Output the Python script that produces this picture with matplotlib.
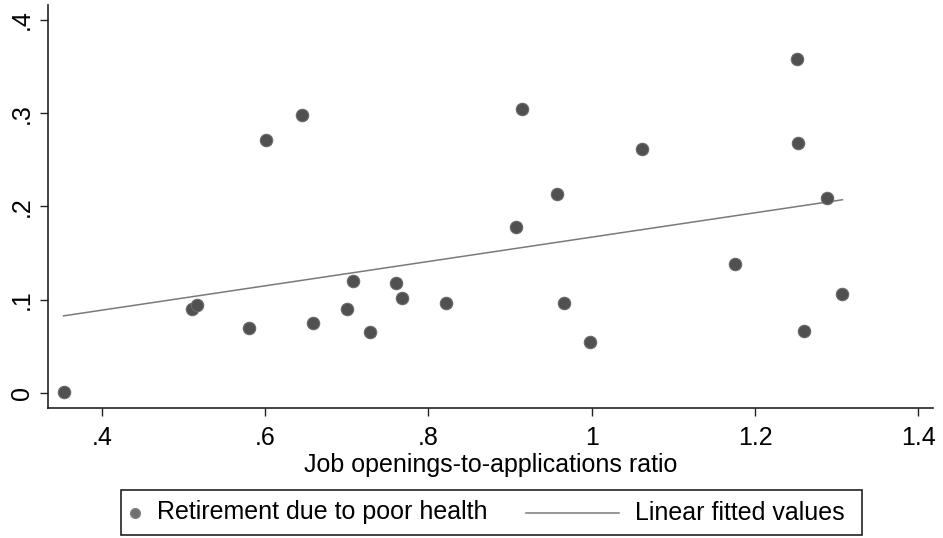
import numpy as np
import matplotlib
matplotlib.use("Agg")
import matplotlib.pyplot as plt
from matplotlib.lines import Line2D
from matplotlib.patches import Rectangle

plt.rcParams['font.family'] = ['Liberation Sans', 'DejaVu Sans']

# Data
ratio = [0.353, 0.510, 0.516, 0.580, 0.601, 0.645, 0.658, 0.700, 0.707, 0.728,
         0.760, 0.767, 0.822, 0.907, 0.915, 0.957, 0.966, 0.998, 1.062, 1.176,
         1.252, 1.253, 1.260, 1.288, 1.307]
retire_health = [0.001, 0.090, 0.094, 0.070, 0.271, 0.298, 0.075, 0.090, 0.120, 0.065,
                 0.118, 0.102, 0.097, 0.178, 0.305, 0.213, 0.097, 0.055, 0.262, 0.138,
                 0.358, 0.268, 0.067, 0.209, 0.106]
xticks = [0.4, 0.6, 0.8, 1.0, 1.2, 1.4]
xticklabels = ['.4', '.6', '.8', '1', '1.2', '1.4']
yticks = [0.0, 0.1, 0.2, 0.3, 0.4]
yticklabels = ['0', '.1', '.2', '.3', '.4']
xlabel = 'Job openings-to-applications ratio'
legend_labels = ['Retirement due to poor health', 'Linear fitted values']

x = np.array(ratio)
y = np.array(retire_health)
slope, intercept = np.polyfit(x, y, 1)
xf = np.array([x.min(), x.max()])
yf = intercept + slope * xf

W, H = 943, 538
fig = plt.figure(figsize=(W/100, H/100), dpi=100)
ax = fig.add_axes([48/W, 1 - 408/H, (933-48)/W, (408-5)/H])

marker_color = '#505050'
line_color = '#7a7a7a'
ax.scatter(x, y, s=80, color=marker_color, edgecolors='#6a6a6a', linewidths=0.8, zorder=3)
ax.plot(xf, yf, color=line_color, lw=1.1, zorder=2)

ax.set_xlim(0.334, 1.418)
ax.set_ylim(-0.016, 0.416)
ax.set_xticks(xticks)
ax.set_xticklabels(xticklabels)
ax.set_yticks(yticks)
ax.set_yticklabels(yticklabels, rotation=90, va='center')
ax.tick_params(axis='both', labelsize=18, length=6, width=1.0, color='#222222', pad=4)
ax.tick_params(axis='x', pad=7)
ax.set_xlabel(xlabel, fontsize=18, labelpad=2)

for s in ['top', 'right']:
    ax.spines[s].set_visible(False)
for s in ['left', 'bottom']:
    ax.spines[s].set_color('#222222')
    ax.spines[s].set_linewidth(1.2)

# Legend drawn in figure pixel positions (Stata-style box)
def fx(px):
    return px / W

def fy(py):
    return 1 - py / H

fig.patches.append(Rectangle((fx(121), fy(535)), fx(862) - fx(121), fy(490) - fy(535),
                             transform=fig.transFigure, fill=False, edgecolor='#222222',
                             linewidth=1.2))
yc = fy(512.5)
fig.lines.append(Line2D([fx(135)], [yc], transform=fig.transFigure, marker='o',
                        linestyle='none', markersize=7, markerfacecolor='#707070',
                        markeredgecolor='#808080'))
fig.text(fx(157), yc, legend_labels[0], fontsize=18, va='center', ha='left')
fig.lines.append(Line2D([fx(526), fx(619)], [yc, yc], transform=fig.transFigure,
                        color=line_color, lw=1.1))
fig.text(fx(635), yc, legend_labels[1], fontsize=18, va='center', ha='left')

fig.savefig('out.png', dpi=100, facecolor='white')
